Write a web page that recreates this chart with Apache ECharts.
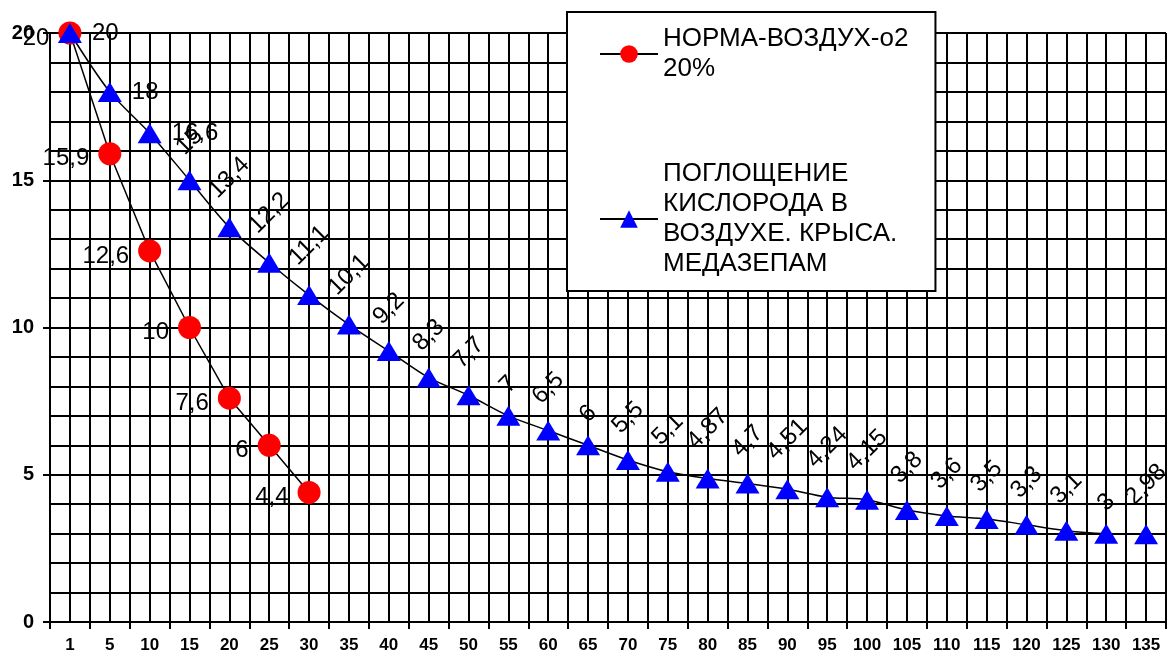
<!DOCTYPE html>
<html><head><meta charset="utf-8">
<script src="https://cdn.jsdelivr.net/npm/echarts@6/dist/echarts.min.js"></script>
<style>html,body{margin:0;padding:0;background:#fff}#c{width:1169px;height:659px}</style>
</head><body><div id="c"></div>
<script>
const categories = ['1','5','10','15','20','25','30','35','40','45','50','55','60','65','70','75','80','85','90','95','100','105','110','115','120','125','130','135'];
const normaValues = [20, 15.9, 12.6, 10, 7.6, 6, 4.4];
const medazepamValues = [20, 18, 16.6, 15, 13.4, 12.2, 11.1, 10.1, 9.2, 8.3, 7.7, 7, 6.5, 6, 5.5, 5.1, 4.87, 4.7, 4.51, 4.24, 4.15, 3.8, 3.6, 3.5, 3.3, 3.1, 3, 2.98];
const seriesNames = ['НОРМА-ВОЗДУХ-о2\n20%', 'ПОГЛОЩЕНИЕ\nКИСЛОРОДА В\nВОЗДУХЕ. КРЫСА.\nМЕДАЗЕПАМ'];
const yTicks = [0, 5, 10, 15, 20];

const FONT = "'Liberation Sans', Arial, sans-serif";
const LABEL_SIZE = 24;
const LEGEND_LH = 30;
const fmt = v => String(v).replace('.', ',');
function textW(s) { let w = 0; for (const ch of s) w += (ch === ',' ? 0.278 : 0.556); return w * LABEL_SIZE; }

const blueData = medazepamValues.map((v, i) => {
  const t = fmt(v);
  if (i < 3) return { value: v, label: { position: 'right', distance: 10, rotate: 0, align: 'left', verticalAlign: 'middle' } };
  const k = 24 + 0.55 * textW(t);
  return { value: v, label: { position: 'top', distance: k - 10, rotate: 45, align: 'center', verticalAlign: 'middle' } };
});

// legend text: extra top padding so the icon lines up with the first text line
const legendData = seriesNames.map(n => {
  const lines = n.split('\n').length;
  return { name: n, textStyle: { padding: [LEGEND_LH * (lines - 1), 0, 0, 0] } };
});

const chart = echarts.init(document.getElementById('c'), null, { renderer: 'canvas' });
const gridLine = { show: true, lineStyle: { color: '#000', width: 2 } };
chart.setOption({
  animation: false,
  backgroundColor: '#fff',
  grid: { left: 50, top: 33, width: 1116, height: 589 },
  legend: {
    orient: 'vertical', left: 567, top: 12,
    padding: [-3, 27, -33, 32],
    backgroundColor: '#fff', borderColor: '#000', borderWidth: 2,
    itemWidth: 58, itemHeight: 22, itemGap: 15,
    textStyle: { fontFamily: FONT, fontSize: 26, lineHeight: LEGEND_LH, color: '#000' },
    data: legendData
  },
  xAxis: [{
    type: 'category', data: categories, boundaryGap: true,
    axisLine: { lineStyle: { color: '#000', width: 2 } },
    axisTick: { show: true, length: 7, lineStyle: { color: '#000', width: 2 } },
    axisLabel: { color: '#000', fontFamily: FONT, fontWeight: 'bold', fontSize: 17, margin: 15, interval: 0 },
    splitLine: { show: false }
  }, {
    type: 'value', min: 0, max: 56, interval: 1, position: 'bottom',
    axisLine: { show: false }, axisTick: { show: false }, axisLabel: { show: false },
    splitLine: gridLine
  }],
  yAxis: {
    type: 'value', min: yTicks[0], max: yTicks[yTicks.length - 1], interval: yTicks[1] - yTicks[0],
    axisLine: { show: true, lineStyle: { color: '#000', width: 2 } },
    axisTick: { show: true, length: 7, lineStyle: { color: '#000', width: 2 } },
    axisLabel: { color: '#000', fontFamily: FONT, fontWeight: 'bold', fontSize: 20, margin: 16 },
    splitLine: gridLine,
    minorTick: { show: false, splitNumber: 5 },
    minorSplitLine: { show: true, lineStyle: { color: '#000', width: 2 } }
  },
  series: [{
    name: seriesNames[0], type: 'line', data: normaValues,
    symbol: 'circle', symbolSize: 23,
    itemStyle: { color: '#ff0000' },
    lineStyle: { color: '#000', width: 1.5 },
    label: { show: true, position: 'left', distance: 9, offset: [0, 5], color: '#000', fontFamily: FONT, fontSize: LABEL_SIZE, formatter: p => fmt(p.value) },
    z: 2
  }, {
    name: seriesNames[1], type: 'line', data: blueData,
    symbol: 'triangle', symbolSize: [24, 20],
    itemStyle: { color: '#0000ff' },
    lineStyle: { color: '#000', width: 1.5 },
    smooth: 0.3,
    label: { show: true, color: '#000', fontFamily: FONT, fontSize: LABEL_SIZE, formatter: p => fmt(p.value) },
    z: 3
  }]
});
</script></body></html>
